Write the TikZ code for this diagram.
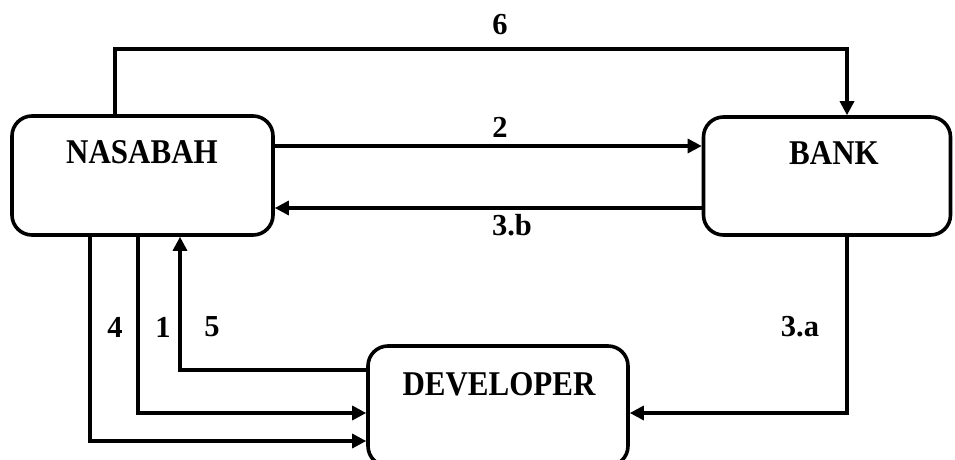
\documentclass[tikz,border=0pt]{standalone}
\usepackage{fontspec}
\setmainfont{Liberation Serif}
\usetikzlibrary{arrows.meta}
\begin{document}
\begin{tikzpicture}[x=1pt,y=-1pt,
  box/.style={draw, line width=3.6pt, rounded corners=20pt, inner sep=0pt},
  boxtext/.style={font=\bfseries\fontsize{31}{36}\selectfont, inner sep=0pt},
  numlabel/.style={font=\bfseries\fontsize{30.5}{35}\selectfont, inner sep=0pt},
  link/.style={line width=3.2pt},
  arr/.style={link, -{Triangle[length=14pt,width=14pt]}}]
\useasboundingbox (0,0) rectangle (955,460);
\begin{scope}
\clip (0,0) rectangle (955,460);
% the three parties
\node[box, minimum width=261pt, minimum height=119pt] (nas) at (142.5,175.5) {};
\node[box, minimum width=247pt, minimum height=118pt] (bank) at (827,176) {};
\node[box, minimum width=260pt, minimum height=120pt] (dev) at (498,406) {};
\end{scope}
\node[boxtext] (nasT) at (142,152) {\scalebox{1}[1.12]{NASABAH}};
\node[boxtext] (bankT) at (834,153) {\scalebox{1}[1.12]{BANK}};
\node[boxtext] (devT) at (499,384) {\scalebox{1}[1.12]{DEVELOPER}};
% routing helpers
\coordinate (x6) at (847,0);
\coordinate (y2) at (0,146);
\coordinate (y3b) at (0,208);
\coordinate (y3a) at (0,413);
\coordinate (x4) at (90,0);
\coordinate (y4) at (0,441);
\coordinate (x1) at (138,0);
\coordinate (y1) at (0,413);
\coordinate (x5) at (180,0);
\coordinate (y5) at (0,370);
\coordinate (x6s) at (115,0);
\coordinate (c6) at (847,49);
% flows
\draw[arr] (x6s |- nas.north) |- (c6) -- (x6 |- bank.north);
\draw[arr] (nas.east |- y2) -- (bank.west |- y2);
\draw[arr] (bank.west |- y3b) -- (nas.east |- y3b);
\draw[arr] (x6 |- bank.south) |- (dev.east |- y3a);
\draw[arr] (x4 |- nas.south) |- (dev.west |- y4);
\draw[arr] (x1 |- nas.south) |- (dev.west |- y1);
\draw[arr] (dev.west |- y5) -| (x5 |- nas.south);
% step numbers
\node[numlabel] (l6) at (500,25) {6};
\node[numlabel] (l2) at (500,127) {2};
\node[numlabel] (l3b) at (512,225) {3.b};
\node[numlabel] (l3a) at (800,327) {3.a};
\node[numlabel] (l4) at (115,327) {4};
\node[numlabel] (l1) at (163,327) {1};
\node[numlabel] (l5) at (212,327) {5};
\end{tikzpicture}
\end{document}
